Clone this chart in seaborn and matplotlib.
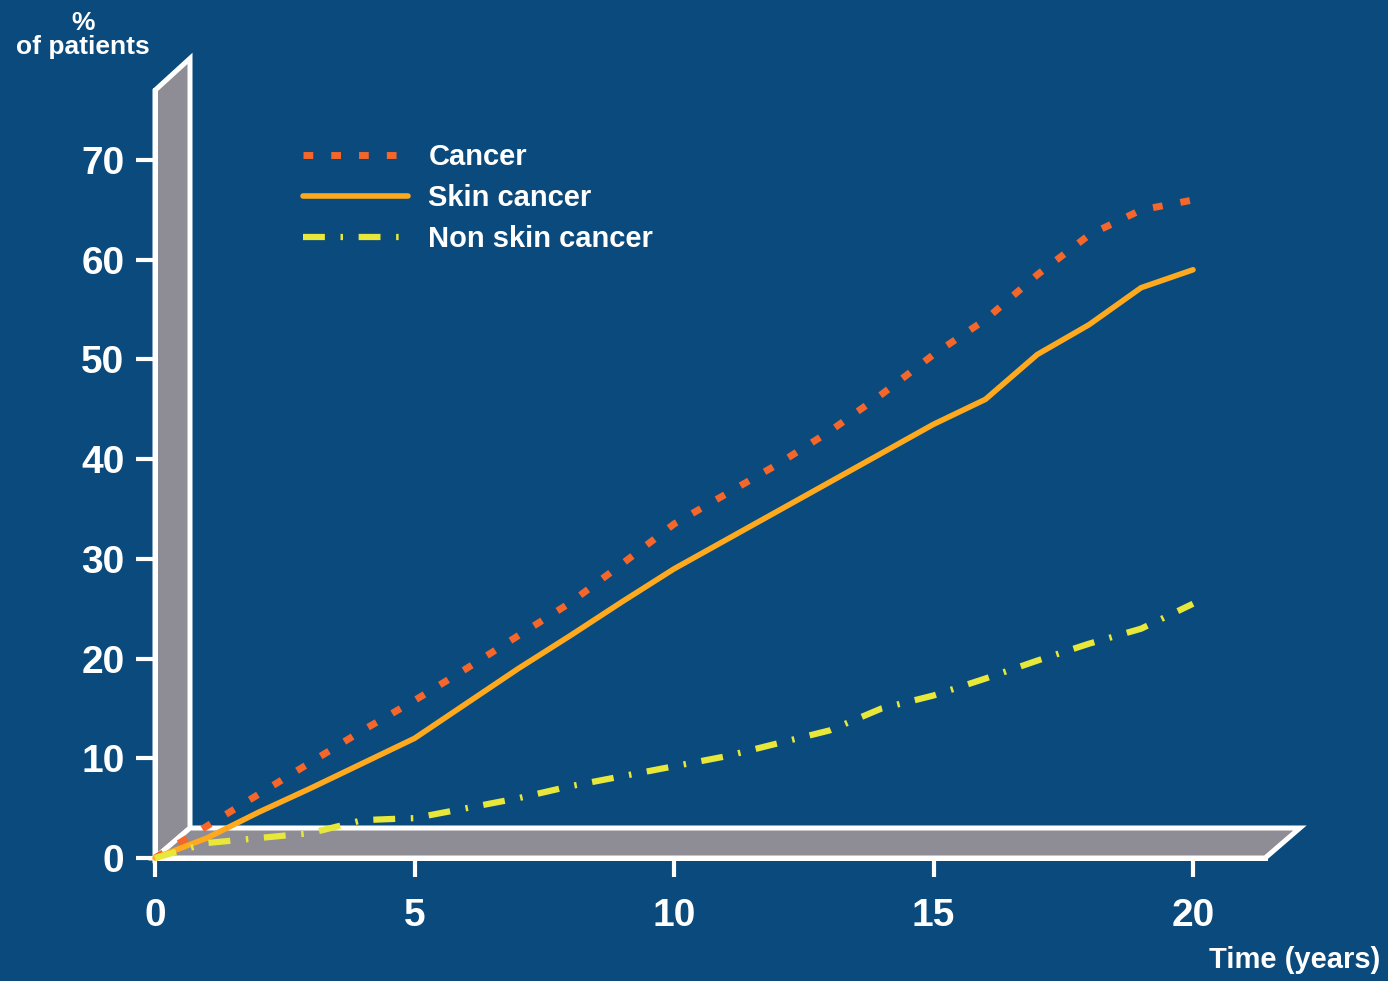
import numpy as np
import pandas as pd
import seaborn as sns
import matplotlib.pyplot as plt
from matplotlib.patches import Polygon

years = list(range(21))
cancer = [0, 3.2, 6.4, 9.6, 12.8, 15.8, 19, 22.3, 25.6, 29.5, 33.5,
          36.5, 39.5, 42.8, 46.5, 50.5, 54, 58.5, 62.5, 65, 66]
skin_cancer = [0, 2, 4.6, 7, 9.5, 12, 15.5, 19, 22.3, 25.7, 29,
               31.9, 34.8, 37.7, 40.6, 43.5, 46, 50.5, 53.5, 57.2, 59]
non_skin_cancer = [0, 1.5, 2, 2.5, 3.8, 4, 5, 6, 7.2, 8.2, 9.2,
                   10.2, 11.5, 12.8, 15, 16.3, 18, 19.8, 21.5, 23, 25.5]

y_ticks = [0, 10, 20, 30, 40, 50, 60, 70]
x_ticks = [0, 5, 10, 15, 20]

bg = '#0b4a7c'
sns.set_style('white')
plt.rcParams['font.family'] = ['Liberation Sans', 'DejaVu Sans']
plt.rcParams['font.weight'] = 'bold'

df = pd.DataFrame({'years': years, 'Cancer': cancer,
                   'Skin cancer': skin_cancer, 'Non skin cancer': non_skin_cancer})

fig = plt.figure(figsize=(13.88, 9.81), dpi=100, facecolor=bg)
ax = fig.add_axes([0, 0, 1, 1], facecolor=bg)

# pixel mapping: x px = 155 + 51.9*v, y px = 858 - 9.97*v
ax.set_xlim(-155 / 51.9, (1388 - 155) / 51.9)
ax.set_ylim((858 - 981) / 9.97, 858 / 9.97)

# pseudo 3D walls
dx, dy = 35 / 51.9, 30 / 9.97
wall_top_front, wall_top_back = 77.0, 80.2
floor_front, floor_back = 21.39, 22.06
wall = Polygon([(0, 0), (0, wall_top_front), (dx, wall_top_back), (dx, dy)],
               closed=True, fc='#8e8c94', ec='white', lw=3.6, zorder=2)
floor = Polygon([(0, 0), (floor_front, 0), (floor_back, dy), (dx, dy)],
                closed=True, fc='#8e8c94', ec='white', lw=3.6, zorder=2)
ax.add_patch(wall)
ax.add_patch(floor)

sns.lineplot(data=df, x='years', y='Cancer', ax=ax, color='#f5662a', lw=5,
             linestyle=(0, (1.4, 2.6)), label='Cancer', zorder=4)
sns.lineplot(data=df, x='years', y='Skin cancer', ax=ax, color='#ffaa1e', lw=4,
             label='Skin cancer', zorder=4)
sns.lineplot(data=df, x='years', y='Non skin cancer', ax=ax, color='#e8e83a', lw=4.5,
             linestyle=(0, (3.5, 2.5, 0.4, 2.5)), label='Non skin cancer', zorder=4)

for s in ['top', 'right']:
    ax.spines[s].set_visible(False)
ax.spines['left'].set_position(('data', 0))
ax.spines['bottom'].set_position(('data', 0))
ax.spines['left'].set_bounds(0, wall_top_front)
ax.spines['bottom'].set_bounds(0, floor_front)
for s in ['left', 'bottom']:
    ax.spines[s].set_color('white')
    ax.spines[s].set_linewidth(3.6)

ax.set_xticks(x_ticks)
ax.set_yticks(y_ticks)
ax.tick_params(axis='both', colors='white', direction='out', length=14, width=3,
               labelsize=28, left=True, bottom=True)
ax.tick_params(axis='y', pad=8)
ax.tick_params(axis='x', pad=15)
for lab in ax.get_xticklabels() + ax.get_yticklabels():
    lab.set_fontweight('bold')

ax.set_ylabel('%\nof patients', rotation=0, color='white', fontsize=19,
              fontweight='bold', ha='center', va='center', linespacing=0.95)
ax.yaxis.set_label_coords(83 / 1388, 1 - 35 / 981)
ax.set_xlabel('Time (years)', color='white', fontsize=21, fontweight='bold',
              ha='right', va='center')
ax.xaxis.set_label_coords(1380 / 1388, 1 - 960 / 981)

leg = ax.legend(loc='upper left', bbox_to_anchor=(303 / 1388, 1 - 143 / 981),
                frameon=False, fontsize=21, handlelength=3.6, handletextpad=0.7,
                labelspacing=0.45, borderpad=0, borderaxespad=0)
for t in leg.get_texts():
    t.set_color('white')
    t.set_fontweight('bold')

fig.savefig('out.png', dpi=100, facecolor=bg)
